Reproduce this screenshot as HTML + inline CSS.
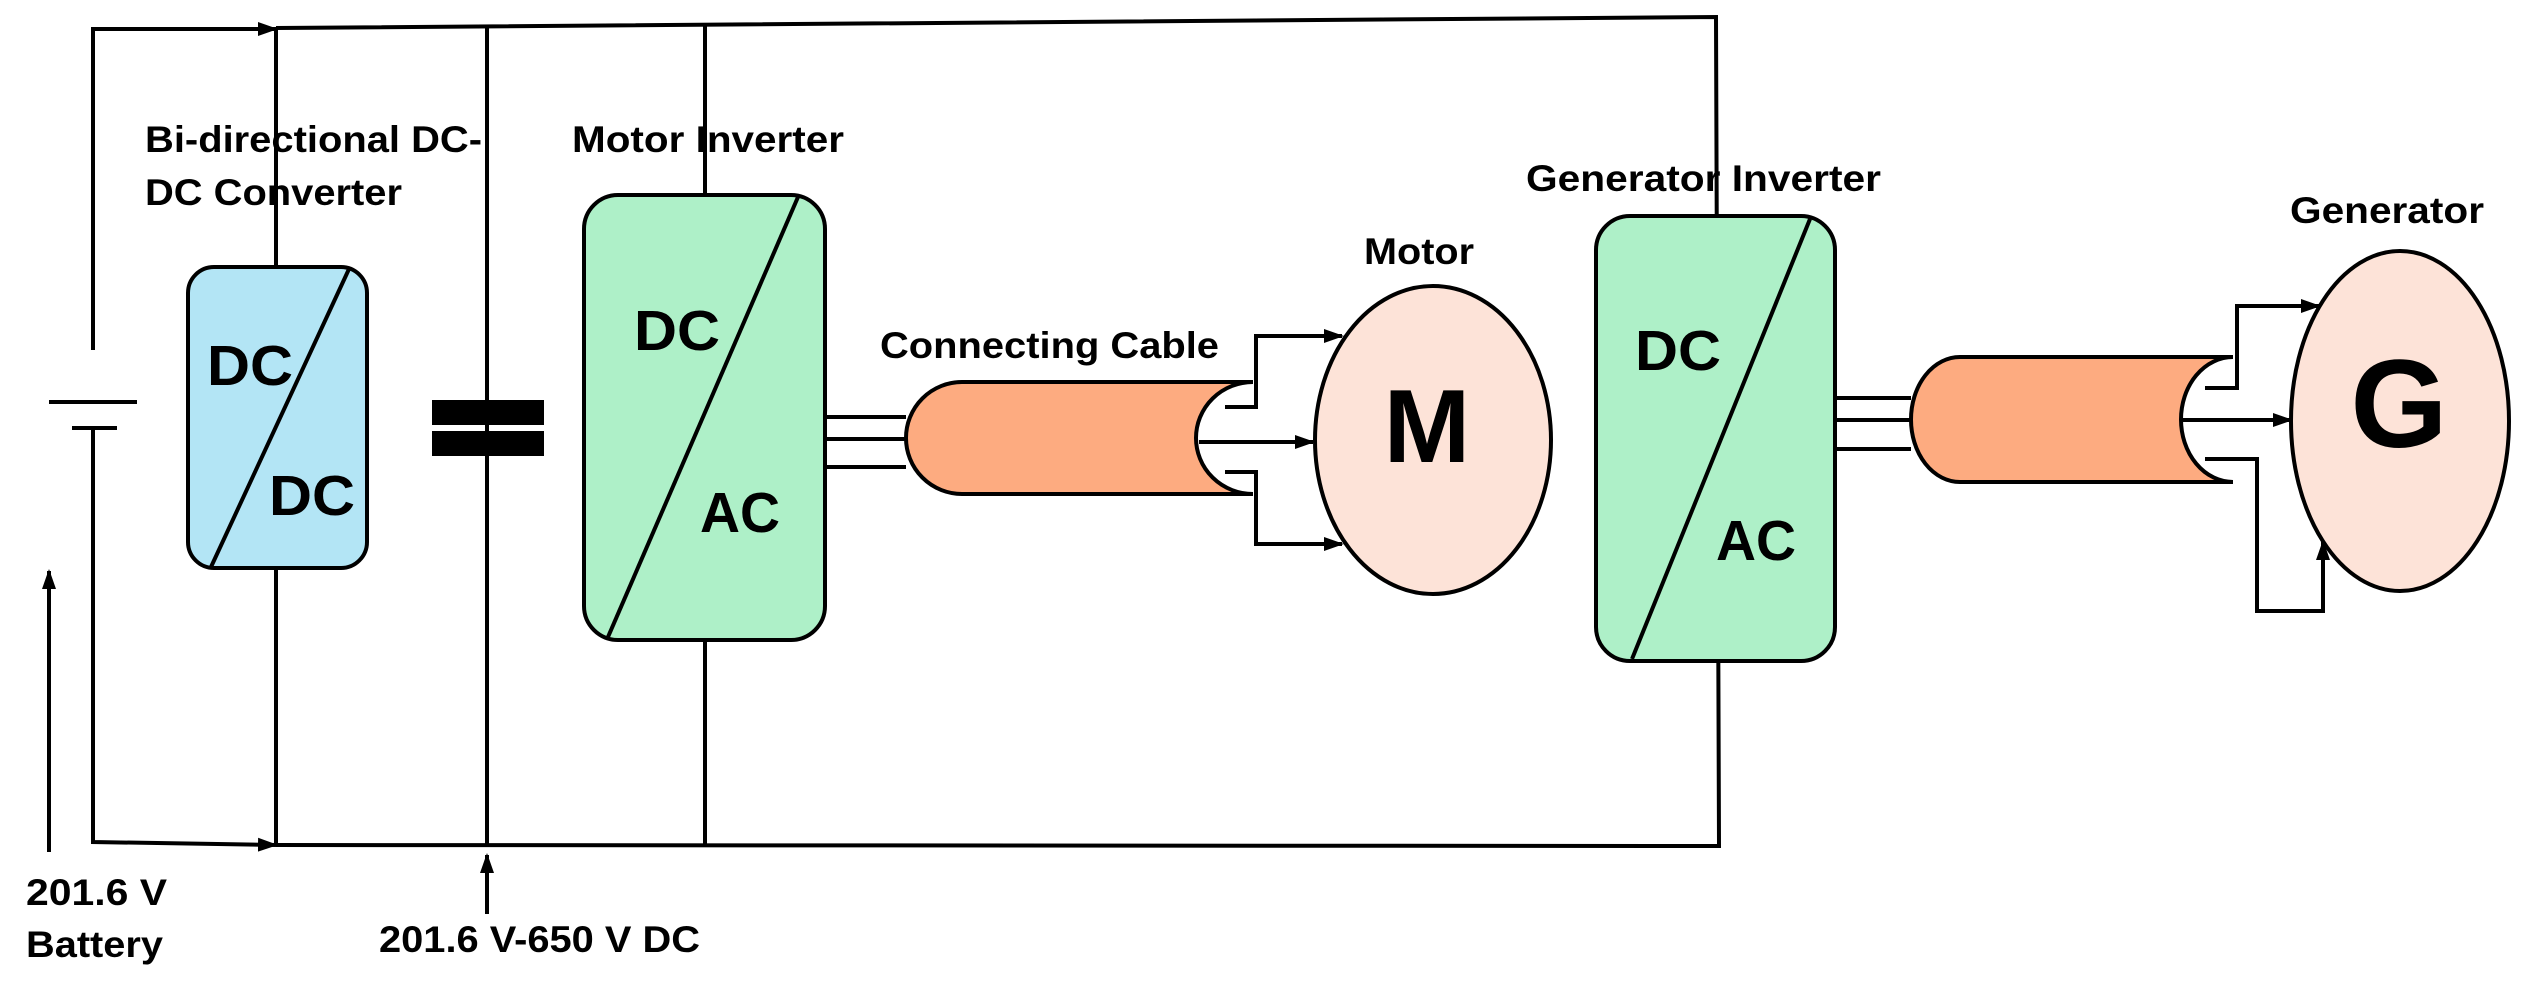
<!DOCTYPE html>
<html><head><meta charset="utf-8"><style>
html,body{margin:0;padding:0;background:#fff;}
svg{display:block;}
text{font-family:"Liberation Sans",sans-serif;font-weight:bold;fill:#000;}
</style></head><body>
<svg width="2530" height="982" viewBox="0 0 2530 982" xmlns="http://www.w3.org/2000/svg">
<defs>
<marker id="ah2" markerWidth="20" markerHeight="20" refX="18" refY="10" orient="auto" markerUnits="userSpaceOnUse" viewBox="0 0 20 20">
<path d="M0,3 L20,10 L0,17 z" fill="#000"/></marker>
</defs>
<g stroke="#000" stroke-width="4" fill="none">
<polyline points="93,350 93,29 276,29" marker-end="url(#ah2)"/>
<polyline points="93,428 93,842 276,845" marker-end="url(#ah2)"/>
<line x1="49" y1="402" x2="137" y2="402"/>
<line x1="72" y1="428" x2="117" y2="428"/>
<polyline points="276,28 1716,17 1719,846 276,845"/>
<line x1="276" y1="28" x2="276" y2="845"/>
<line x1="487" y1="26" x2="487" y2="845"/>
<line x1="705" y1="24" x2="705" y2="845"/>
<line x1="49" y1="852" x2="49" y2="571" marker-end="url(#ah2)"/>
<line x1="487" y1="914" x2="487" y2="855" marker-end="url(#ah2)"/>
</g>
<rect x="432" y="400" width="112" height="25" fill="#000"/>
<rect x="432" y="431" width="112" height="25" fill="#000"/>
<rect x="188" y="267" width="179" height="301" rx="26" fill="#b3e5f5" stroke="#000" stroke-width="4"/>
<line x1="349" y1="269" x2="211" y2="567" stroke="#000" stroke-width="4"/>
<text x="207" y="385" font-size="57" textLength="86" lengthAdjust="spacingAndGlyphs">DC</text>
<text x="269" y="515" font-size="57" textLength="86" lengthAdjust="spacingAndGlyphs">DC</text>
<rect x="584" y="195" width="241" height="445" rx="34" fill="#aef0c8" stroke="#000" stroke-width="4"/>
<line x1="798" y1="197" x2="608" y2="637" stroke="#000" stroke-width="4"/>
<text x="634" y="350" font-size="57" textLength="86" lengthAdjust="spacingAndGlyphs">DC</text>
<text x="700" y="532" font-size="57" textLength="80" lengthAdjust="spacingAndGlyphs">AC</text>
<rect x="1596" y="216" width="239" height="445" rx="34" fill="#aef0c8" stroke="#000" stroke-width="4"/>
<line x1="1810" y1="219" x2="1632" y2="659" stroke="#000" stroke-width="4"/>
<text x="1635" y="370" font-size="57" textLength="86" lengthAdjust="spacingAndGlyphs">DC</text>
<text x="1716" y="560" font-size="57" textLength="80" lengthAdjust="spacingAndGlyphs">AC</text>
<g stroke="#000" stroke-width="4" fill="none">
<line x1="825" y1="417" x2="906" y2="417"/>
<line x1="825" y1="439" x2="906" y2="439"/>
<line x1="825" y1="467" x2="906" y2="467"/>
</g>
<path d="M1253 382 L962 382 A56 56 0 0 0 962 494 L1253 494 A57 56 0 0 1 1253 382 Z" fill="#fdab80" stroke="#000" stroke-width="4"/>
<g stroke="#000" stroke-width="4" fill="none">
<polyline points="1225,407 1256,407 1256,336 1342,336" marker-end="url(#ah2)"/>
<line x1="1199" y1="442" x2="1313" y2="442" marker-end="url(#ah2)"/>
<polyline points="1225,472 1256,472 1256,544 1342,544" marker-end="url(#ah2)"/>
</g>
<ellipse cx="1433" cy="440" rx="118" ry="154" fill="#fde3d8" stroke="#000" stroke-width="4"/>
<text x="1427" y="462" font-size="104" text-anchor="middle">M</text>
<g stroke="#000" stroke-width="4" fill="none">
<line x1="1835" y1="398" x2="1911" y2="398"/>
<line x1="1835" y1="420" x2="1911" y2="420"/>
<line x1="1835" y1="449" x2="1911" y2="449"/>
</g>
<path d="M2233 357 L1960 357 A49 62.5 0 0 0 1960 482 L2233 482 A52 62.5 0 0 1 2233 357 Z" fill="#fdab80" stroke="#000" stroke-width="4"/>
<g stroke="#000" stroke-width="4" fill="none">
<polyline points="2205,388 2237,388 2237,306 2319,306" marker-end="url(#ah2)"/>
<line x1="2181" y1="420" x2="2291" y2="420" marker-end="url(#ah2)"/>
<polyline points="2205,459 2257,459 2257,611 2323,611 2323,542" marker-end="url(#ah2)"/>
</g>
<ellipse cx="2400" cy="421" rx="109" ry="170" fill="#fde3d8" stroke="#000" stroke-width="4"/>
<text x="2399" y="447" font-size="125" text-anchor="middle">G</text>
<text x="145" y="152" font-size="37" textLength="337" lengthAdjust="spacingAndGlyphs">Bi-directional DC-</text>
<text x="145" y="205" font-size="37" textLength="257" lengthAdjust="spacingAndGlyphs">DC Converter</text>
<text x="572" y="152" font-size="37" textLength="272" lengthAdjust="spacingAndGlyphs">Motor Inverter</text>
<text x="880" y="358" font-size="37" textLength="339" lengthAdjust="spacingAndGlyphs">Connecting Cable</text>
<text x="1364" y="264" font-size="37" textLength="110" lengthAdjust="spacingAndGlyphs">Motor</text>
<text x="1526" y="191" font-size="37" textLength="355" lengthAdjust="spacingAndGlyphs">Generator Inverter</text>
<text x="2290" y="223" font-size="37" textLength="194" lengthAdjust="spacingAndGlyphs">Generator</text>
<text x="26" y="905" font-size="37" textLength="141" lengthAdjust="spacingAndGlyphs">201.6 V</text>
<text x="26" y="957" font-size="37" textLength="137" lengthAdjust="spacingAndGlyphs">Battery</text>
<text x="379" y="952" font-size="37" textLength="321" lengthAdjust="spacingAndGlyphs">201.6 V-650 V DC</text>
</svg>
</body></html>
